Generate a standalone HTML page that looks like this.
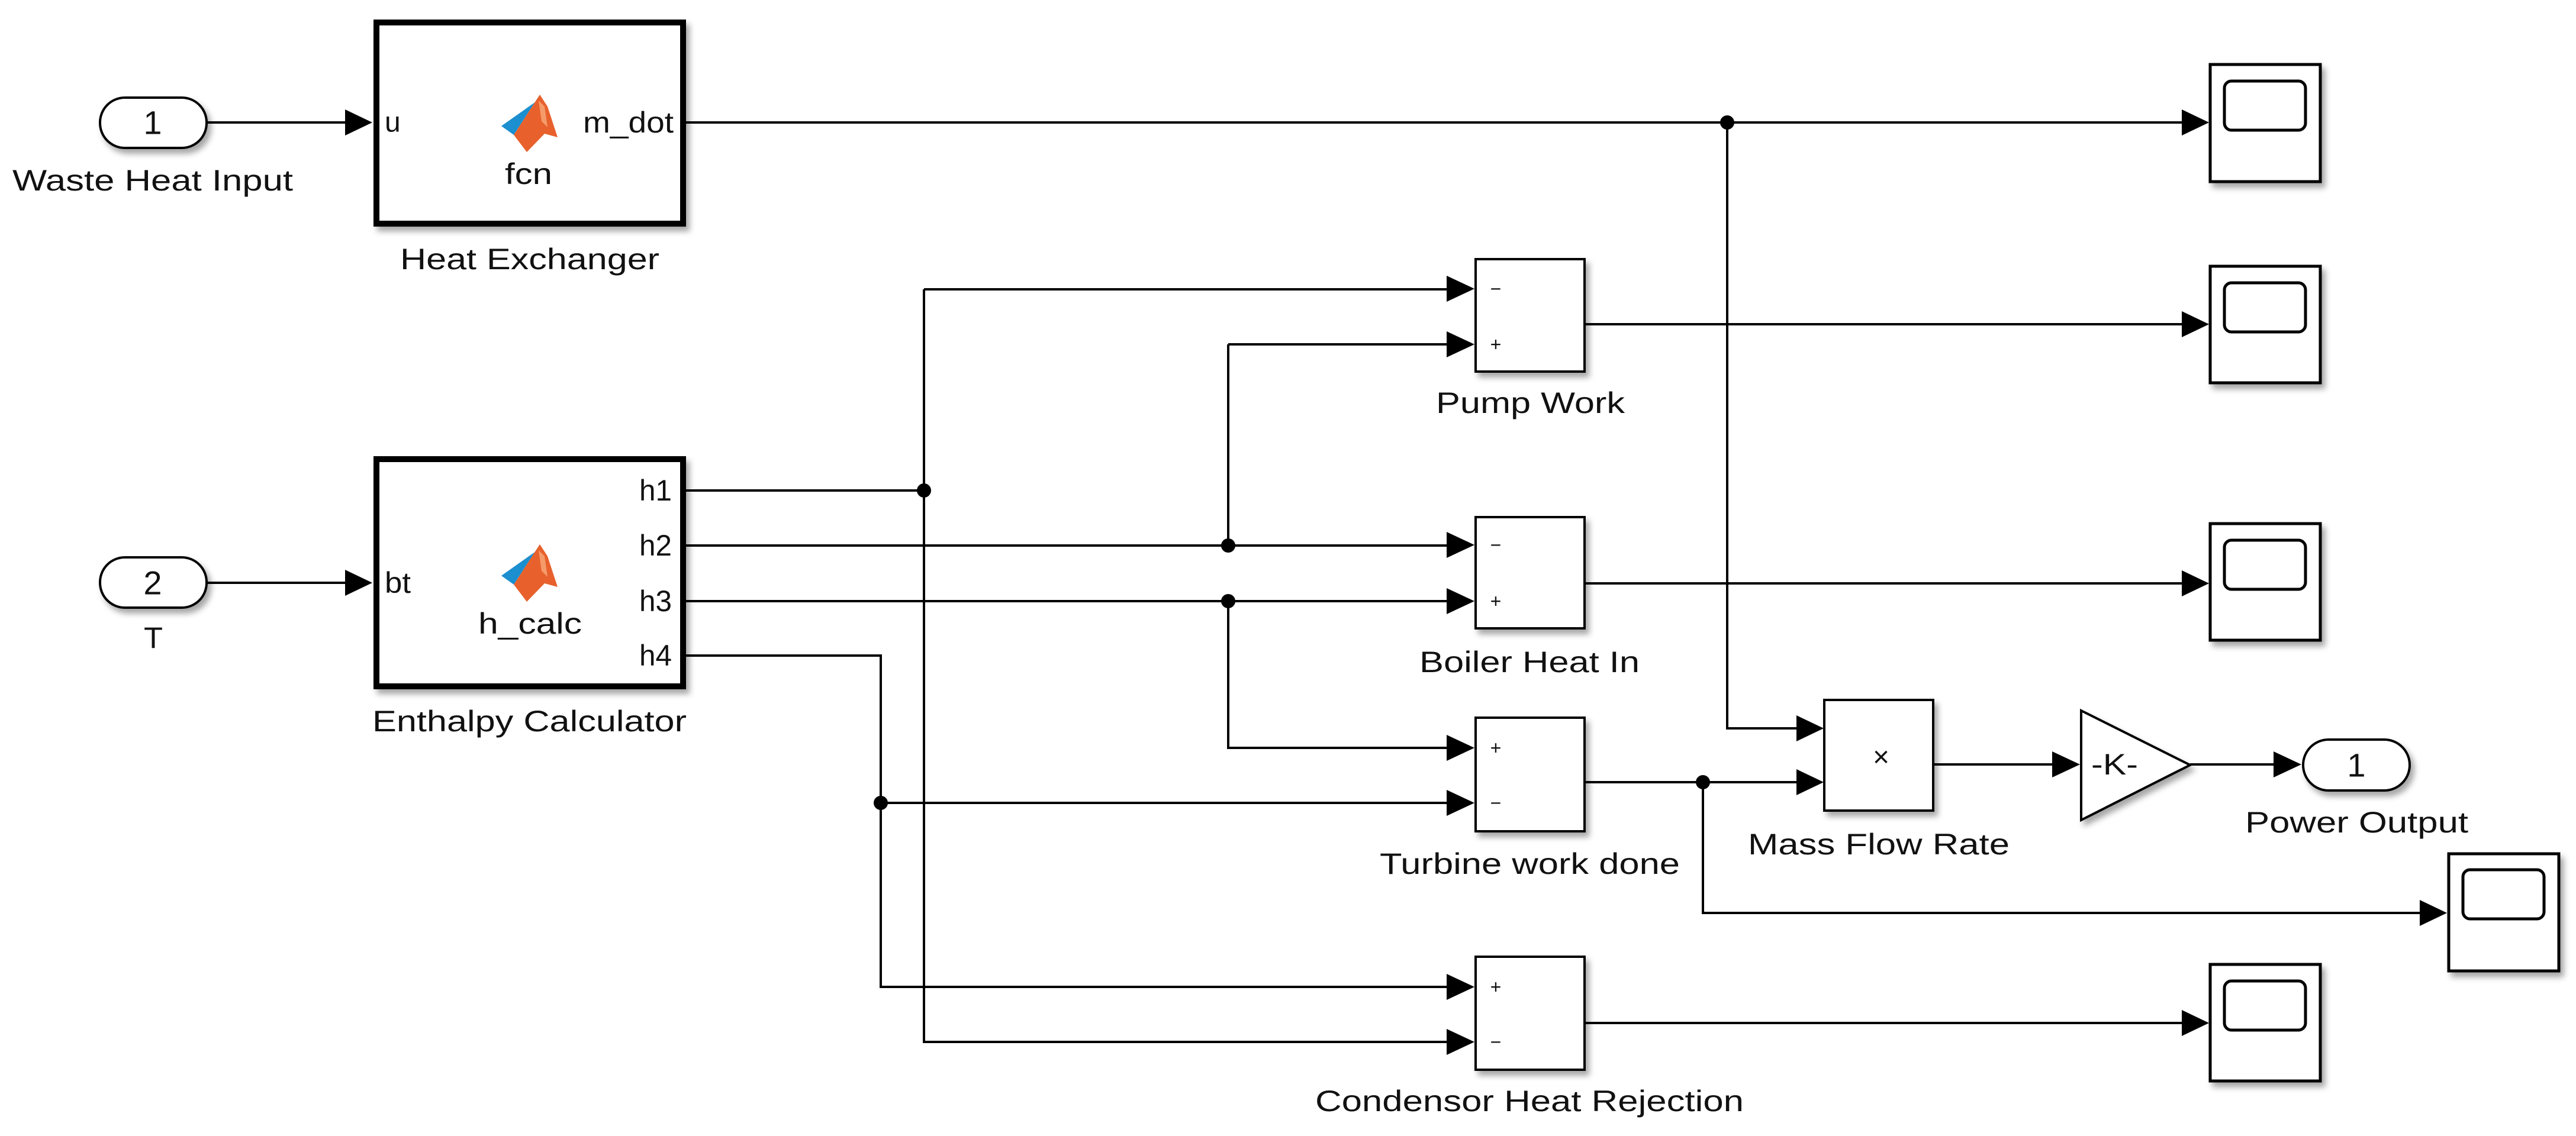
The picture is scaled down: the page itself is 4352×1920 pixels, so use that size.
<!DOCTYPE html>
<html><head><meta charset="utf-8"><style>
html,body{margin:0;padding:0;background:#fff}
svg{display:block}
text{font-family:"Liberation Sans",Arial,sans-serif;fill:#111}
</style></head><body>
<svg width="4352" height="1920" viewBox="0 0 4352 1920" xmlns="http://www.w3.org/2000/svg">
<defs>
<filter id="sh" x="-10%" y="-10%" width="130%" height="130%"><feDropShadow dx="6" dy="8" stdDeviation="5" flood-color="#000" flood-opacity="0.35"/></filter>
<g id="ml">
<polygon points="847,213 905,172 912,160 868,228" fill="#1b8fcf"/>
<polygon points="868,228 912,160 925,180 942,232 920,226 890,257" fill="#e8612c"/>
<polygon points="910,170 920,180 925,215 915,205" fill="#f59b6a"/>
</g>
</defs>
<g fill="none" stroke="#000" stroke-width="4">
<path d="M1159 207 H3690"/>
<path d="M350 207 H587"/>
<path d="M350 985 H587"/>
<path d="M2918 207 V1231 H3040"/>
<path d="M1159 829 H1561"/>
<path d="M1561 489 H2446"/>
<path d="M1561 489 V1761 H2446"/>
<path d="M1159 922 H2446"/>
<path d="M2075 582 H2446"/>
<path d="M2075 582 V922"/>
<path d="M1159 1016 H2446"/>
<path d="M2075 1016 V1264 H2446"/>
<path d="M1159 1108 H1488 V1668 H2446"/>
<path d="M1488 1357 H2446"/>
<path d="M2678 548 H3690"/>
<path d="M2678 986 H3690"/>
<path d="M2678 1322 H3040"/>
<path d="M2877 1322 V1543 H4092"/>
<path d="M2678 1729 H3690"/>
<path d="M3267 1292 H3470"/>
<path d="M3700 1292 H3843"/>
</g>
<g fill="#000">
<polygon points="583,185 583,229 629,207"/>
<polygon points="583,963 583,1007 629,985"/>
<polygon points="3686,185 3686,229 3732,207"/>
<polygon points="3686,526 3686,570 3732,548"/>
<polygon points="3686,964 3686,1008 3732,986"/>
<polygon points="3686,1707 3686,1751 3732,1729"/>
<polygon points="4088,1521 4088,1565 4134,1543"/>
<polygon points="2444,466 2444,510 2491,488"/>
<polygon points="2444,560 2444,604 2491,582"/>
<polygon points="2444,899 2444,943 2491,921"/>
<polygon points="2444,994 2444,1038 2491,1016"/>
<polygon points="2444,1242 2444,1286 2491,1264"/>
<polygon points="2444,1335 2444,1379 2491,1357"/>
<polygon points="2444,1646 2444,1690 2491,1668"/>
<polygon points="2444,1739 2444,1783 2491,1761"/>
<polygon points="3035,1209 3035,1253 3081,1231"/>
<polygon points="3035,1300 3035,1344 3081,1322"/>
<polygon points="3467,1270 3467,1314 3514,1292"/>
<polygon points="3841,1270 3841,1314 3888,1292"/>
<circle cx="2918" cy="207" r="12"/>
<circle cx="1561" cy="829" r="12"/>
<circle cx="2075" cy="922" r="12"/>
<circle cx="2075" cy="1016" r="12"/>
<circle cx="1488" cy="1357" r="12"/>
<circle cx="2877" cy="1322" r="12"/>
</g>
<g fill="#fff" stroke="#000" filter="url(#sh)">
<rect x="636" y="38" width="518" height="340" stroke-width="10"/>
<rect x="636" y="776" width="518" height="384" stroke-width="10"/>
<rect x="169" y="165" width="180" height="85" rx="42" stroke-width="4"/>
<rect x="169" y="942" width="180" height="85" rx="42" stroke-width="4"/>
<rect x="3891" y="1250" width="180" height="86" rx="43" stroke-width="4"/>
<rect x="2493" y="438" width="184" height="190" stroke-width="4"/>
<rect x="2493" y="874" width="184" height="188" stroke-width="4"/>
<rect x="2493" y="1213" width="184" height="192" stroke-width="4"/>
<rect x="2493" y="1617" width="184" height="191" stroke-width="4"/>
<rect x="3082" y="1183" width="184" height="187" stroke-width="4"/>
<polygon points="3516,1201 3700,1293 3516,1386" stroke-width="4"/>
<rect x="3734" y="109" width="186" height="198" stroke-width="5"/>
<rect x="3734" y="450" width="186" height="197" stroke-width="5"/>
<rect x="3734" y="885" width="186" height="197" stroke-width="5"/>
<rect x="3734" y="1630" width="186" height="197" stroke-width="5"/>
<rect x="4137" y="1443" width="186" height="198" stroke-width="5"/>
</g>
<g fill="none" stroke="#000" stroke-width="5">
<rect x="3758" y="137" width="137" height="83" rx="12"/>
<rect x="3758" y="478" width="137" height="83" rx="12"/>
<rect x="3758" y="913" width="137" height="83" rx="12"/>
<rect x="3758" y="1658" width="137" height="83" rx="12"/>
<rect x="4161" y="1470" width="137" height="83" rx="12"/>
</g>
<use href="#ml"/>
<use href="#ml" transform="translate(0,760)"/>
<g font-size="50" dominant-baseline="central">
<text x="258" y="207" text-anchor="middle" font-size="56">1</text>
<text x="258" y="985" text-anchor="middle" font-size="56">2</text>
<text x="3981" y="1293" text-anchor="middle" font-size="56">1</text>
<text x="21" y="305" textLength="474" lengthAdjust="spacingAndGlyphs">Waste Heat Input</text>
<text x="676" y="438" textLength="438" lengthAdjust="spacingAndGlyphs">Heat Exchanger</text>
<text x="853" y="294" textLength="80" lengthAdjust="spacingAndGlyphs">fcn</text>
<text x="650" y="207" font-size="48">u</text>
<text x="985" y="207" textLength="153" lengthAdjust="spacingAndGlyphs">m_dot</text>
<text x="1080" y="829" textLength="55" lengthAdjust="spacingAndGlyphs">h1</text>
<text x="1080" y="922" textLength="55" lengthAdjust="spacingAndGlyphs">h2</text>
<text x="1080" y="1016" textLength="55" lengthAdjust="spacingAndGlyphs">h3</text>
<text x="1080" y="1108" textLength="55" lengthAdjust="spacingAndGlyphs">h4</text>
<text x="650" y="985" textLength="44" lengthAdjust="spacingAndGlyphs">bt</text>
<text x="808" y="1054" textLength="175" lengthAdjust="spacingAndGlyphs">h_calc</text>
<text x="243" y="1078" textLength="32" lengthAdjust="spacingAndGlyphs">T</text>
<text x="629" y="1219" textLength="531" lengthAdjust="spacingAndGlyphs">Enthalpy Calculator</text>
<text x="2426" y="681" textLength="319" lengthAdjust="spacingAndGlyphs">Pump Work</text>
<text x="2398" y="1119" textLength="372" lengthAdjust="spacingAndGlyphs">Boiler Heat In</text>
<text x="2331" y="1460" textLength="507" lengthAdjust="spacingAndGlyphs">Turbine work done</text>
<text x="2222" y="1861" textLength="724" lengthAdjust="spacingAndGlyphs">Condensor Heat Rejection</text>
<text x="2953" y="1427" textLength="442" lengthAdjust="spacingAndGlyphs">Mass Flow Rate</text>
<text x="3793" y="1390" textLength="377" lengthAdjust="spacingAndGlyphs">Power Output</text>
<text x="3533" y="1292" textLength="79" lengthAdjust="spacingAndGlyphs">-K-</text>
<text x="3178" y="1280" text-anchor="middle" font-size="48" fill="#333">×</text>
</g>
<g font-size="32" dominant-baseline="central" fill="#333" text-anchor="middle">
<text x="2527" y="488">−</text><text x="2527" y="582">+</text>
<text x="2527" y="921">−</text><text x="2527" y="1016">+</text>
<text x="2527" y="1264">+</text><text x="2527" y="1357">−</text>
<text x="2527" y="1668">+</text><text x="2527" y="1761">−</text>
</g>
</svg>
</body></html>
